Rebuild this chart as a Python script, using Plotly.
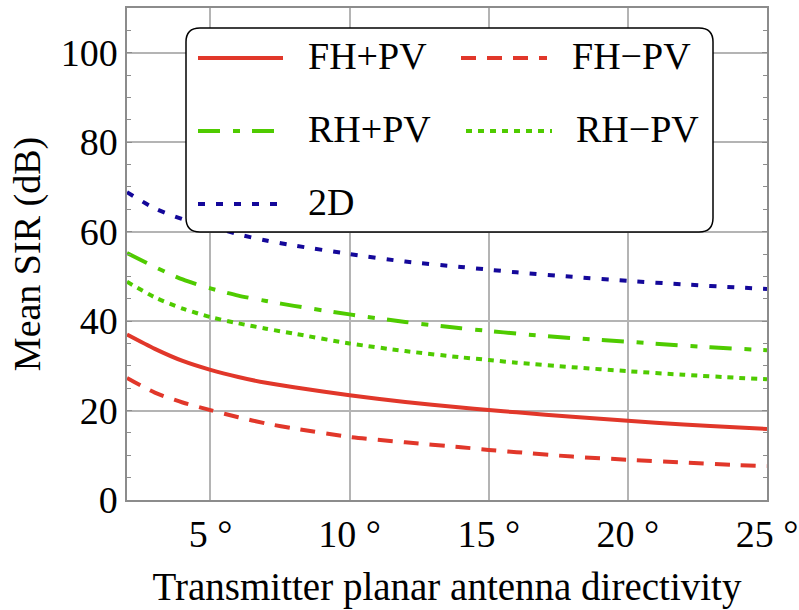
import plotly.graph_objects as go

# ---- data ----
x_deg = [2, 3, 4, 5, 6, 7, 8, 10, 12, 14, 15, 16, 18, 20, 22, 24, 25]
fh_pv = [37.0, 33.8, 31.1, 29.1, 27.5, 26.2, 25.2, 23.4, 21.9, 20.7, 20.1, 19.6, 18.6, 17.7, 16.9, 16.2, 15.9]
fh_mpv = [27.3, 24.0, 21.8, 20.1, 18.5, 17.1, 16.0, 14.1, 12.9, 11.8, 11.2, 10.7, 9.7, 9.0, 8.4, 7.8, 7.6]
rh_pv = [55.2, 52.1, 49.3, 47.3, 45.7, 44.5, 43.4, 41.5, 39.8, 38.4, 37.8, 37.2, 36.2, 35.4, 34.5, 33.8, 33.5]
rh_mpv = [48.8, 45.3, 42.8, 40.9, 39.5, 38.3, 37.2, 35.0, 33.3, 31.9, 31.3, 30.7, 29.7, 28.8, 28.0, 27.3, 27.0]
d2 = [68.8, 65.2, 62.8, 61.2, 59.4, 58.0, 56.9, 55.0, 53.3, 52.1, 51.5, 50.9, 49.9, 49.0, 48.2, 47.5, 47.2]

x_ticks = [5, 10, 15, 20, 25]
x_ticktext = ["5 °", "10 °", "15 °", "20 °", "25 °"]
y_ticks = [0, 20, 40, 60, 80, 100]

names = ["FH+PV", "FH\u2212PV", "RH+PV", "RH\u2212PV", "2D"]

RED = "#E1372A"
GREEN = "#4FCB00"
NAVY = "#14089A"
FONT = "'Liberation Serif', 'Times New Roman', Times, serif"

series = [
    (fh_pv, RED, "solid"),
    (fh_mpv, RED, "15px,11px"),
    (rh_pv, GREEN, "22px,13px,7px,12px"),
    (rh_mpv, GREEN, "6px,6px"),
    (d2, NAVY, "7px,11px"),
]

fig = go.Figure()
for (ys, col, dash), nm in zip(series, names):
    fig.add_trace(go.Scatter(x=x_deg, y=ys, mode="lines", name=nm,
                             line=dict(color=col, width=4, dash=dash, shape="spline", smoothing=0.7),
                             showlegend=False))

W, H = 799, 610
ML, MR, MT, MB = 127, 32, 8, 110
PW, PH = W - ML - MR, H - MT - MB

def px2paper(px, py):
    return (px - ML) / PW, (H - MB - py) / PH

# rounded legend box
x0, y0, x1, y1, r = 186, 28, 713, 232, 14
def P(px, py):
    a, b = px2paper(px, py)
    return f"{a:.5f},{b:.5f}"
path = (f"M{P(x0 + r, y0)} L{P(x1 - r, y0)} Q{P(x1, y0)} {P(x1, y0 + r)} "
        f"L{P(x1, y1 - r)} Q{P(x1, y1)} {P(x1 - r, y1)} "
        f"L{P(x0 + r, y1)} Q{P(x0, y1)} {P(x0, y1 - r)} "
        f"L{P(x0, y0 + r)} Q{P(x0, y0)} {P(x0 + r, y0)} Z")
shapes = [dict(type="path", path=path, xref="paper", yref="paper",
               line=dict(color="black", width=1.5), fillcolor="white", layer="above")]

# legend entries: (line x0, line x1, row y, text x)
entries = [
    (198, 283, 58, 306),
    (461, 547, 58, 570),
    (198, 283, 131, 306),
    (466, 552, 131, 574),
    (198, 283, 204, 306),
]
annotations = []
for (lx0, lx1, ly, tx), (ys, col, dash), nm in zip(entries, series, names):
    a0, b0 = px2paper(lx0, ly)
    a1, _ = px2paper(lx1, ly)
    shapes.append(dict(type="line", xref="paper", yref="paper", x0=a0, x1=a1, y0=b0, y1=b0,
                       line=dict(color=col, width=4, dash=dash), layer="above"))
    ta, tb = px2paper(tx, ly - 2)
    annotations.append(dict(x=ta, y=tb, xref="paper", yref="paper", text=nm, showarrow=False,
                            xanchor="left", yanchor="middle",
                            font=dict(family=FONT, size=38, color="black")))

GRID = "#B4B4B4"
AX = "#8C8C8C"
fig.update_layout(
    width=W, height=H,
    margin=dict(l=ML, r=MR, t=MT, b=MB, pad=0, autoexpand=False),
    paper_bgcolor="white", plot_bgcolor="white",
    font=dict(family=FONT, size=38, color="black"),
    shapes=shapes, annotations=annotations,
    xaxis=dict(range=[2, 25], tickvals=x_ticks, ticktext=x_ticktext, automargin=False,
               showgrid=True, gridcolor=GRID, gridwidth=1.5,
               showline=True, linecolor=AX, linewidth=1.5, mirror=True,
               ticks="", zeroline=False, ticklabelstandoff=0,
               title=dict(text="Transmitter planar antenna directivity", standoff=18,
                          font=dict(family=FONT, size=39))),
    yaxis=dict(range=[0, 110], tickvals=y_ticks, automargin=False,
               showgrid=True, gridcolor=GRID, gridwidth=1.5,
               showline=True, linecolor=AX, linewidth=1.5, mirror="allticks",
               ticks="inside", ticklen=5, tickcolor=AX, zeroline=False,
               minor=dict(dtick=5, tick0=0, ticks="inside", ticklen=4, tickcolor=AX, showgrid=False),
               title=dict(text="Mean SIR (dB)", standoff=8,
                          font=dict(family=FONT, size=38))),
)

fig.write_html("out.html")
